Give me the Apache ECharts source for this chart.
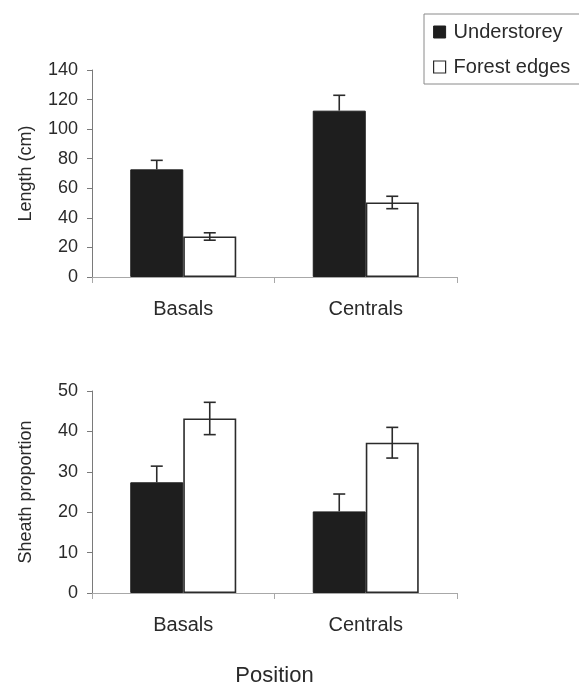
<!DOCTYPE html>
<html>
<head>
<meta charset="utf-8">
<style>
  html, body { margin: 0; padding: 0; background: #fff; }
  #chart { width: 579px; height: 688px; }
</style>
<script src="https://cdn.jsdelivr.net/npm/echarts@6/dist/echarts.min.js"></script>
</head>
<body>
<div id="chart"></div>
<script>
// data
const positions = ['Basals', 'Centrals']
const seriesNames = ['Understorey', 'Forest edges']

const lengthUnder = [72.8, 112.5]
const lengthUnderErr = [6.1, 10.4]
const lengthEdge = [27.4, 50.4]
const lengthEdgeErr = [2.5, 4.2]

const sheathUnder = [27.4, 20.2]
const sheathUnderErr = [4.0, 4.3]
const sheathEdge = [43.2, 37.2]
const sheathEdgeErr = [4.0, 3.8]

const FONT = 'Liberation Sans'
const TEXT = '#2a2a2a'
const BAR_W = 53

function errData(means, errs) {
  return means.map((m, i) => [i, m, errs[i]])
}

// side: -1 left bar, +1 right bar; both: draw lower whisker too
function errRender(side, both) {
  return function (params, api) {
    const idx = api.value(0)
    const mean = api.value(1)
    const err = api.value(2)
    const mid = api.coord([idx, mean])
    const x = mid[0] + side * BAR_W / 2
    const yTop = api.coord([idx, mean + err])[1]
    const yBot = both ? api.coord([idx, mean - err])[1] : mid[1]
    const cap = 6
    const style = { stroke: '#2b2b2b', lineWidth: 1.6 }
    const children = [
      { type: 'line', shape: { x1: x, y1: yTop, x2: x, y2: yBot }, style },
      { type: 'line', shape: { x1: x - cap, y1: yTop, x2: x + cap, y2: yTop }, style },
    ]
    if (both) {
      children.push({ type: 'line', shape: { x1: x - cap, y1: yBot, x2: x + cap, y2: yBot }, style })
    }
    return { type: 'group', children }
  }
}

function xAxisFor(gridIndex, withName) {
  const ax = {
    type: 'category',
    gridIndex,
    data: positions,
    axisLine: { lineStyle: { color: '#a8a8a8', width: 1 } },
    axisTick: { show: true, alignWithLabel: false, length: 6, lineStyle: { color: '#a8a8a8' } },
    axisLabel: { color: TEXT, fontSize: 20, fontFamily: FONT, margin: 22 },
  }
  if (withName) {
    ax.name = 'Position'
    ax.nameLocation = 'middle'
    ax.nameGap = 72
    ax.nameTextStyle = { color: TEXT, fontSize: 22, fontFamily: FONT }
  }
  return ax
}

function yAxisFor(gridIndex, name, max, interval) {
  return {
    type: 'value',
    gridIndex,
    min: 0,
    max,
    interval,
    name,
    nameLocation: 'middle',
    nameGap: 57,
    nameTextStyle: { color: TEXT, fontSize: 18, fontFamily: FONT },
    axisLine: { show: true, lineStyle: { color: '#7a7a7a', width: 1 } },
    axisTick: { show: true, length: 5, lineStyle: { color: '#7a7a7a' } },
    axisLabel: { color: TEXT, fontSize: 18, fontFamily: FONT, margin: 14 },
    splitLine: { show: false },
  }
}

const underStyle = { color: '#1e1e1e', borderColor: '#1e1e1e', borderWidth: 1 }
const edgeStyle = { color: '#ffffff', borderColor: '#2b2b2b', borderWidth: 1.6 }

function barPair(gridIndex, under, edge) {
  return [
    {
      name: seriesNames[0], type: 'bar', xAxisIndex: gridIndex, yAxisIndex: gridIndex,
      data: under, barWidth: BAR_W, barGap: '0%', itemStyle: underStyle, silent: true,
    },
    {
      name: seriesNames[1], type: 'bar', xAxisIndex: gridIndex, yAxisIndex: gridIndex,
      data: edge, barWidth: BAR_W, barGap: '0%', itemStyle: edgeStyle, silent: true,
    },
  ]
}

function errPair(gridIndex, under, underErr, edge, edgeErr) {
  return [
    {
      type: 'custom', xAxisIndex: gridIndex, yAxisIndex: gridIndex, z: 5, silent: true,
      renderItem: errRender(-1, false), data: errData(under, underErr),
    },
    {
      type: 'custom', xAxisIndex: gridIndex, yAxisIndex: gridIndex, z: 5, silent: true,
      renderItem: errRender(1, true), data: errData(edge, edgeErr),
    },
  ]
}

const chart = echarts.init(document.getElementById('chart'), null, { renderer: 'canvas' })
chart.setOption({
  backgroundColor: '#ffffff',
  animation: false,
  legend: {
    data: [
      { name: seriesNames[0], itemStyle: underStyle },
      { name: seriesNames[1], itemStyle: { color: '#ffffff', borderColor: '#2b2b2b', borderWidth: 1.2 } },
    ],
    orient: 'vertical',
    left: 424,
    top: 14,
    icon: 'rect',
    itemWidth: 12,
    itemHeight: 12,
    itemGap: 15,
    padding: [8, 30, 7, 9],
    borderColor: '#8a8a8a',
    borderWidth: 1,
    textStyle: { color: TEXT, fontSize: 20, fontFamily: FONT, padding: [0, 0, 0, 3] },
    selectedMode: false,
  },
  grid: [
    { left: 92, width: 365, top: 70, height: 207 },
    { left: 92, width: 365, top: 391, height: 206 },
  ],
  xAxis: [xAxisFor(0, false), xAxisFor(1, true)],
  yAxis: [yAxisFor(0, 'Length (cm)', 140, 20), yAxisFor(1, 'Sheath proportion', 50, 10)],
  series: [
    ...barPair(0, lengthUnder, lengthEdge),
    ...errPair(0, lengthUnder, lengthUnderErr, lengthEdge, lengthEdgeErr),
    ...barPair(1, sheathUnder, sheathEdge),
    ...errPair(1, sheathUnder, sheathUnderErr, sheathEdge, sheathEdgeErr),
  ],
})
</script>
</body>
</html>
